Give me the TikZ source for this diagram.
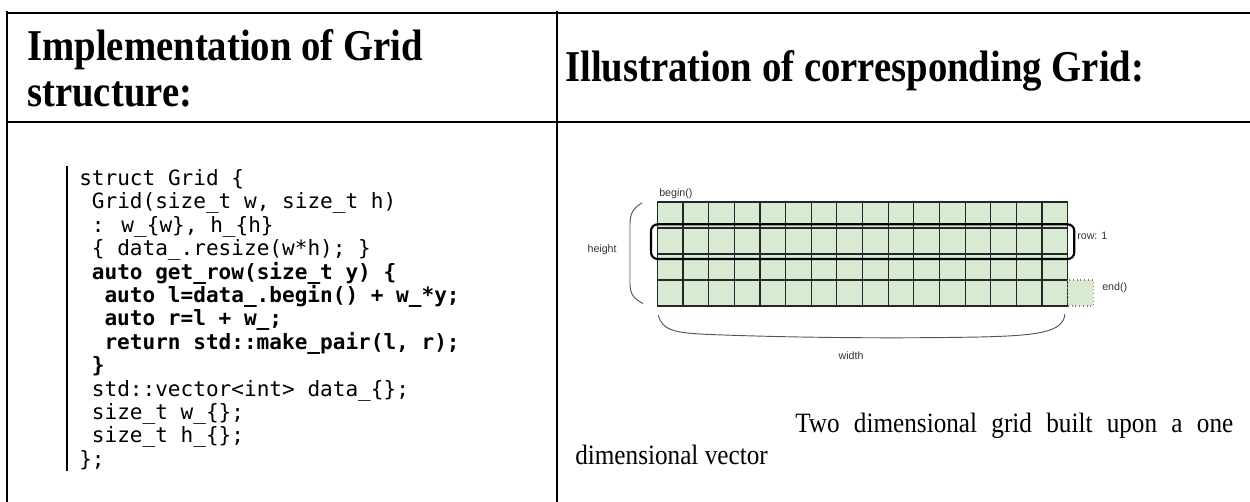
\documentclass[tikz,border=0pt]{standalone}
\usepackage{fontspec}
\setmainfont{Liberation Serif}
\newfontfamily\headfont[FakeStretch=0.88]{Liberation Serif}
\newfontfamily\capfont[FakeStretch=0.9]{Liberation Serif}
\newfontfamily\codefont{DejaVu Sans Mono}
\newfontfamily\labelfont{Liberation Sans}
\definecolor{cellgreen}{HTML}{D9EAD3}
\definecolor{labelgray}{HTML}{333333}
\definecolor{bracegray}{HTML}{555555}
\begin{document}
\begin{tikzpicture}[x=0.75pt,y=-0.75pt,
  rule/.style={line width=1.5pt,black},
  headtext/.style={anchor=base west,inner sep=0pt,font=\headfont\fontsize{33}{38}\selectfont\bfseries},
  codeline/.style={anchor=base west,inner sep=0pt,font=\codefont\fontsize{15.8}{17.6}\selectfont},
  codebold/.style={codeline,font=\codefont\fontsize{15.8}{17.6}\selectfont\bfseries},
  cell/.style={draw=black!85,line width=0.9pt,fill=cellgreen},
  smalllabel/.style={anchor=base west,inner sep=0pt,text=labelgray,font=\labelfont\fontsize{8}{9.6}\selectfont},
  brace/.style={draw=bracegray,line width=0.7pt},
  captext/.style={anchor=base west,inner sep=0pt,font=\capfont\fontsize{21}{24}\selectfont}]
\useasboundingbox (0,0) rectangle (1250,502);

% table rules
\draw[rule] (7.3,12.7) -- (1250,12.7);
\draw[rule] (7.3,121.7) -- (1250,121.7);
\draw[rule] (7.3,11) -- (7.3,502);
\draw[rule] (556.7,11) -- (556.7,502);

% header texts
\node[headtext] (h1a) at (27,61) {Implementation of Grid};
\node[headtext] (h1b) at (27,107) {structure:};
\node[headtext] (h2) at (565,82) {Illustration of corresponding Grid:};

% code listing
\draw[line width=1.2pt] (66.8,166) -- (66.8,471);
\def\cw{12.64}
\def\lh{23.4}
\def\cy{185.5}
\node[codeline] (c1)  at (79+0*\cw,\cy+0*\lh)  {struct Grid \{};
\node[codeline] (c2)  at (79+1*\cw,\cy+1*\lh)  {Grid(size\_t w, size\_t h)};
\node[codeline] (c3)  at (79+1*\cw,\cy+2*\lh)  {: w\_\{w\}, h\_\{h\}};
\node[codeline] (c4)  at (79+1*\cw,\cy+3*\lh)  {\{ data\_.resize(w*h); \}};
\node[codebold] (c5)  at (79+1*\cw,\cy+4*\lh)  {auto get\_row(size\_t y) \{};
\node[codebold] (c6)  at (79+2*\cw,\cy+5*\lh)  {auto l=data\_.begin() + w\_*y;};
\node[codebold] (c7)  at (79+2*\cw,\cy+6*\lh)  {auto r=l + w\_;};
\node[codebold] (c8)  at (79+2*\cw,\cy+7*\lh)  {return std::make\_pair(l, r);};
\node[codebold] (c9)  at (79+1*\cw,\cy+8*\lh)  {\}};
\node[codeline] (c10) at (79+1*\cw,\cy+9*\lh)  {std::vector<int> data\_\{\};};
\node[codeline] (c11) at (79+1*\cw,\cy+10*\lh) {size\_t w\_\{\};};
\node[codeline] (c12) at (79+1*\cw,\cy+11*\lh) {size\_t h\_\{\};};
\node[codeline] (c13) at (79+0*\cw,\cy+12*\lh) {\};};

% grid of 16 x 4 cells
\def\gx{657.3}
\def\gy{202}
\def\gw{25.65}
\def\gh{26}
\foreach \i in {0,...,15}
  \foreach \j in {0,...,3}
    \path[cell] (\gx+\i*\gw,\gy+\j*\gh) rectangle ++(\gw,\gh);
% one-past-the-end cell
\path[fill=cellgreen,draw=black!50,dotted,line width=0.8pt]
  (\gx+16*\gw,\gy+3*\gh) rectangle ++(\gw,\gh);
% highlighted row
\draw[line width=1.6pt,rounded corners=5pt] (651,224.3) rectangle (1074.3,259);

% labels
\node[smalllabel] (lbegin)  at (659,197)   {begin()};
\node[smalllabel] (lrow)    at (1077,240)  {row: 1};
\node[smalllabel] (lend)    at (1102,291)  {end()};
\node[smalllabel] (lheight) at (587.3,253) {height};
\node[smalllabel] (lwidth)  at (838.3,359) {width};

% brackets
\draw[brace] (642,203) .. controls (633,208) and (630,214) .. (630,224)
  -- (630,284) .. controls (630,294) and (634,299) .. (643,303.5);
\draw[brace] (658.3,315) .. controls (662,331) and (676,333) .. (710,334.5)
  .. controls (800,338) and (900,338.5) .. (980,337)
  .. controls (1040,335.5) and (1063,332) .. (1065,314);

% caption
\node[captext] (cap1) at (795,432)
  {\makebox[328.5pt][s]{Two dimensional grid built upon a one}};
\node[captext] (cap2) at (575,464) {dimensional vector};
\end{tikzpicture}
\end{document}
